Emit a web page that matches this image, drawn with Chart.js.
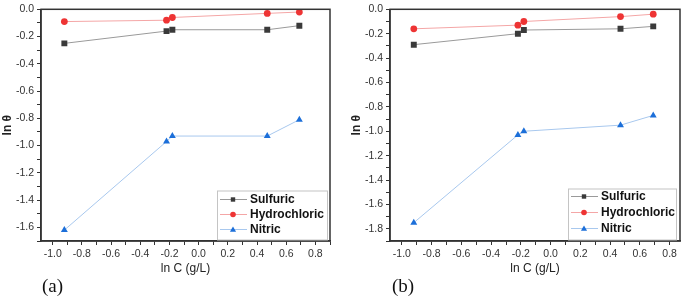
<!DOCTYPE html>
<html>
<head>
<meta charset="utf-8">
<script src="https://cdn.jsdelivr.net/npm/chart.js@4.4.0/dist/chart.umd.min.js"></script>
<style>
  body { margin: 0; background: #fff; }
  #wrap { position: relative; width: 685px; height: 296px; }
  .panel { position: absolute; top: 0; }
  .tag { position: absolute; top: 276px; font: 19px 'Liberation Serif', 'Times New Roman', serif; line-height: 1; color: #111; }
</style>
</head>
<body>
<div id="wrap">
  <canvas id="chartA" class="panel" style="left:0" width="340" height="296"></canvas>
  <canvas id="chartB" class="panel" style="left:340px" width="345" height="296"></canvas>
  <div class="tag" style="left:42px">(a)</div>
  <div class="tag" style="left:392px">(b)</div>
</div>
<script>
// ln C values (shared by both panels)
const lnC = [-0.92, -0.22, -0.18, 0.47, 0.69];

// panel (a)
const sulfuricA = [-0.25, -0.16, -0.15, -0.15, -0.12];
const hydrochloricA = [-0.09, -0.08, -0.06, -0.03, -0.02];
const nitricA = [-1.62, -0.97, -0.93, -0.93, -0.81];

// panel (b)
const sulfuricB = [-0.29, -0.20, -0.17, -0.16, -0.14];
const hydrochloricB = [-0.16, -0.13, -0.10, -0.06, -0.04];
const nitricB = [-1.75, -1.03, -1.00, -0.95, -0.87];

const seriesNames = ['Sulfuric', 'Hydrochloric', 'Nitric'];

const FONT = "'Liberation Sans', Arial, sans-serif";

function tickLabel(v) {
    var n = Math.round(v * 10);
    return n % 2 === 0 ? (n / 10).toFixed(1) : '';
}

function points(ys) {
    return ys.map((y, i) => ({ x: lnC[i], y: y }));
}

// box round the plot area
const frameBox = {
    id: 'frameBox',
    afterDatasetsDraw(chart) {
        const { ctx, chartArea: a } = chart;
        ctx.save();
        ctx.strokeStyle = '#333';
        ctx.lineWidth = 1.5;
        ctx.strokeRect(a.left, a.top, a.right - a.left, a.bottom - a.top);
        ctx.restore();
    }
};

function marker(ctx, style, x, y, r) {
    ctx.beginPath();
    if (style === 'rect') {
        ctx.rect(x - r, y - r, 2 * r, 2 * r);
    } else if (style === 'triangle') {
        ctx.moveTo(x, y - r * 1.1);
        ctx.lineTo(x + r * 1.1, y + r * 0.8);
        ctx.lineTo(x - r * 1.1, y + r * 0.8);
        ctx.closePath();
    } else {
        ctx.arc(x, y, r, 0, Math.PI * 2);
    }
    ctx.fill();
}

// legend box inside the bottom right corner
const insetLegend = {
    id: 'insetLegend',
    afterDraw(chart, args, o) {
        const { ctx, chartArea: a } = chart;
        const x0 = a.right - o.right - o.width;
        const y0 = a.bottom - o.bottom - o.height;
        ctx.save();
        ctx.fillStyle = '#fff';
        ctx.fillRect(x0, y0, o.width, o.height);
        ctx.strokeStyle = '#c4c4c4';
        ctx.lineWidth = 1;
        ctx.strokeRect(x0 + 0.5, y0 + 0.5, o.width, o.height);
        chart.data.datasets.forEach((ds, i) => {
            const y = y0 + o.firstRow + i * o.rowGap;
            ctx.strokeStyle = ds.borderColor;
            ctx.lineWidth = 1;
            ctx.beginPath();
            ctx.moveTo(x0 + 3, y);
            ctx.lineTo(x0 + 30, y);
            ctx.stroke();
            ctx.fillStyle = ds.pointBackgroundColor;
            marker(ctx, ds.pointStyle, x0 + 16, y, ds.pointStyle === 'rect' ? 2.2 : 2.8);
            ctx.fillStyle = '#111';
            ctx.font = 'bold 12px ' + FONT;
            ctx.textBaseline = 'middle';
            ctx.fillText(ds.label, x0 + 33, y + 0.5);
        });
        ctx.restore();
    }
};

function makeChart(id, sulfuric, hydrochloric, nitric, xMin, xMax, yMin, yAxisWidth, yTitlePad, padTop, padRight, legendOpts) {
    return new Chart(document.getElementById(id), {
        type: 'scatter',
        data: {
            datasets: [
                {
                    label: seriesNames[0], data: points(sulfuric), showLine: true,
                    borderColor: '#9a9a9a', borderWidth: 1,
                    pointStyle: 'rect', pointRadius: 4.2,
                    pointBackgroundColor: '#3a3a3a', pointBorderColor: '#3a3a3a', pointBorderWidth: 0
                },
                {
                    label: seriesNames[1], data: points(hydrochloric), showLine: true,
                    borderColor: '#f4a6a6', borderWidth: 1,
                    pointStyle: 'circle', pointRadius: 3.4,
                    pointBackgroundColor: '#ee3434', pointBorderColor: '#ee3434', pointBorderWidth: 0
                },
                {
                    label: seriesNames[2], data: points(nitric), showLine: true,
                    borderColor: '#a8c8ee', borderWidth: 1,
                    pointStyle: 'triangle', pointRadius: 4,
                    pointBackgroundColor: '#1c6fd9', pointBorderColor: '#1c6fd9', pointBorderWidth: 0
                }
            ]
        },
        options: {
            responsive: false,
            animation: false,
            layout: { padding: { left: 0, top: padTop, right: padRight, bottom: 20 } },
            plugins: {
                legend: { display: false },
                tooltip: { enabled: false },
                insetLegend: legendOpts
            },
            scales: {
                x: {
                    type: 'linear', min: xMin, max: xMax,
                    ticks: {
                        stepSize: 0.1, includeBounds: false, autoSkip: false, maxRotation: 0,
                        callback: tickLabel, color: '#333', padding: 3,
                        font: { size: 10.5, family: FONT }
                    },
                    grid: { drawOnChartArea: false, tickLength: 4, color: '#333' },
                    border: { color: '#333', width: 1.5 },
                    title: { display: true, text: 'ln C (g/L)', color: '#222', padding: 0, font: { size: 12, family: FONT } },
                    afterFit(s) { s.height = 35; }
                },
                y: {
                    type: 'linear', min: yMin, max: 0,
                    ticks: {
                        stepSize: 0.1, includeBounds: false, autoSkip: false,
                        callback: tickLabel, color: '#333', padding: 3,
                        font: { size: 10.5, family: FONT }
                    },
                    grid: { drawOnChartArea: false, tickLength: 4, color: '#333' },
                    border: { color: '#333', width: 1.5 },
                    title: { display: true, text: 'ln θ', color: '#222', padding: { top: yTitlePad, bottom: 0 }, font: { size: 12, weight: 'bold', family: FONT } },
                    afterFit(s) { s.width = yAxisWidth; }
                }
            }
        },
        plugins: [frameBox, insetLegend]
    });
}

makeChart('chartA', sulfuricA, hydrochloricA, nitricA, -1.08, 0.9, -1.7, 41, 0, 7, 10,
    { width: 110, height: 49, right: 3, bottom: 1.5, firstRow: 9, rowGap: 15 });
makeChart('chartB', sulfuricB, hydrochloricB, nitricB, -1.08, 0.87, -1.9, 50, 9, 5, 5,
    { width: 108, height: 51, right: 4, bottom: 1.5, firstRow: 8, rowGap: 16 });
</script>
</body>
</html>
